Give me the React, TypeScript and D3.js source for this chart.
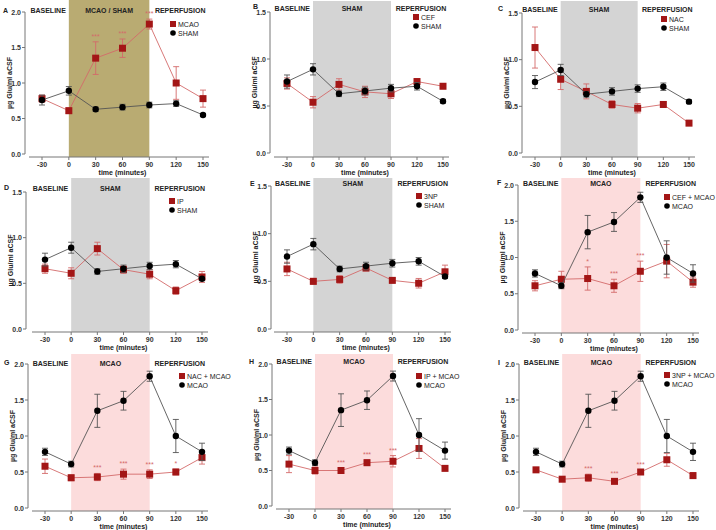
import React from 'react';
import * as d3 from 'd3';

const times = [-30, 0, 30, 60, 90, 120, 150];
const timeTickLabels = ['-30', '0', '30', '60', '90', '120', '150'];
const yTickStep = 0.5;

const shamMean = [0.76, 0.89, 0.63, 0.66, 0.69, 0.71, 0.55];
const shamErr = [0.07, 0.06, 0.03, 0.04, 0.04, 0.04, 0.02];
const mcaoMean = [0.78, 0.61, 1.35, 1.49, 1.83, 1.0, 0.78];
const mcaoErr = [0.05, 0.04, 0.23, 0.13, 0.07, 0.23, 0.12];

const cefMean = [0.74, 0.54, 0.73, 0.65, 0.63, 0.76, 0.71];
const cefErr = [0.06, 0.06, 0.06, 0.06, 0.05, 0.03, 0.02];
const nacMean = [1.13, 0.79, 0.66, 0.52, 0.48, 0.52, 0.32];
const nacErr = [0.22, 0.11, 0.08, 0.04, 0.05, 0.03, 0.02];
const ipMean = [0.66, 0.61, 0.88, 0.65, 0.6, 0.42, 0.57];
const ipErr = [0.05, 0.06, 0.07, 0.04, 0.05, 0.04, 0.06];
const tnpMean = [0.63, 0.5, 0.52, 0.64, 0.51, 0.48, 0.6];
const tnpErr = [0.07, 0.03, 0.04, 0.03, 0.02, 0.05, 0.07];

const cefMcaoMean = [0.61, 0.7, 0.71, 0.61, 0.81, 0.95, 0.66];
const cefMcaoErr = [0.07, 0.11, 0.16, 0.09, 0.14, 0.23, 0.07];
const nacMcaoMean = [0.58, 0.42, 0.43, 0.47, 0.47, 0.5, 0.7];
const nacMcaoErr = [0.1, 0.04, 0.05, 0.07, 0.06, 0.04, 0.09];
const ipMcaoMean = [0.59, 0.5, 0.5, 0.61, 0.63, 0.81, 0.53];
const ipMcaoErr = [0.12, 0.05, 0.03, 0.04, 0.08, 0.14, 0.03];
const tnpMcaoMean = [0.53, 0.4, 0.42, 0.37, 0.5, 0.67, 0.45];
const tnpMcaoErr = [0.02, 0.03, 0.05, 0.03, 0.03, 0.09, 0.04];

const starsA = ['', '', '***', '***', '***', '', ''];
const starsF = ['', '', '*', '***', '***', '', ''];
const starsG = ['', '', '***', '***', '***', '*', ''];
const starsH = ['', '', '***', '***', '***', '', ''];
const starsI = ['', '', '***', '***', '***', '', ''];
const noStars = ['', '', '', '', '', '', ''];

const panelLetters = ['A', 'B', 'C', 'D', 'E', 'F', 'G', 'H', 'I'];
const phaseLabels = ['MCAO / SHAM', 'SHAM', 'SHAM', 'SHAM', 'SHAM', 'MCAO', 'MCAO', 'MCAO', 'MCAO'];
const redNames = ['MCAO', 'CEF', 'NAC', 'IP', '3NP', 'CEF + MCAO', 'NAC + MCAO', 'IP + MCAO', '3NP + MCAO'];
const blackNames = ['SHAM', 'SHAM', 'SHAM', 'SHAM', 'SHAM', 'MCAO', 'MCAO', 'MCAO', 'MCAO'];
const redMeans = [mcaoMean, cefMean, nacMean, ipMean, tnpMean, cefMcaoMean, nacMcaoMean, ipMcaoMean, tnpMcaoMean];
const redErrs = [mcaoErr, cefErr, nacErr, ipErr, tnpErr, cefMcaoErr, nacMcaoErr, ipMcaoErr, tnpMcaoErr];
const blackMeans = [shamMean, shamMean, shamMean, shamMean, shamMean, mcaoMean, mcaoMean, mcaoMean, mcaoMean];
const blackErrs = [shamErr, shamErr, shamErr, shamErr, shamErr, mcaoErr, mcaoErr, mcaoErr, mcaoErr];
const panelStars = [starsA, noStars, noStars, noStars, noStars, starsF, starsG, starsH, starsI];
const yMaxes = [2.0, 1.5, 1.5, 1.5, 1.5, 2.0, 2.0, 2.0, 2.0];

// layout (pixel geometry per panel)
const layouts = [
  { axisX: 25, x0: 42, x1: 203, yTop: 12, yBot: 154, axisY: 157, shadeTop: 0, headerY: 13, letterX: 3, letterY: 13, legX: 173, legY: 24, shade: '#b9ab72' },
  { axisX: 270, x0: 287, x1: 443, yTop: 12, yBot: 153, axisY: 157, shadeTop: 1, headerY: 11, letterX: 253, letterY: 9, legX: 416, legY: 17, shade: '#d4d4d4' },
  { axisX: 522, x0: 535, x1: 689, yTop: 13, yBot: 153, axisY: 157, shadeTop: 1, headerY: 12, letterX: 498, letterY: 11, legX: 664, legY: 19, shade: '#d4d4d4' },
  { axisX: 26, x0: 45, x1: 202, yTop: 192, yBot: 329, axisY: 332, shadeTop: 178, headerY: 191, letterX: 4, letterY: 190, legX: 172, legY: 201, shade: '#d4d4d4' },
  { axisX: 271, x0: 287, x1: 445, yTop: 186, yBot: 329, axisY: 332, shadeTop: 178, headerY: 186, letterX: 250, letterY: 186, legX: 419, legY: 196, shade: '#d4d4d4' },
  { axisX: 518, x0: 535, x1: 693, yTop: 185, yBot: 330, axisY: 333, shadeTop: 178, headerY: 186, letterX: 497, letterY: 185, legX: 667, legY: 197, shade: '#fcdcdc' },
  { axisX: 28, x0: 45, x1: 202, yTop: 364, yBot: 508, axisY: 511, shadeTop: 354, headerY: 366, letterX: 4, letterY: 365, legX: 182, legY: 376, shade: '#fcdcdc' },
  { axisX: 272, x0: 289, x1: 445, yTop: 364, yBot: 506, axisY: 509, shadeTop: 354, headerY: 364, letterX: 249, letterY: 364, legX: 419, legY: 376, shade: '#fcdcdc' },
  { axisX: 519, x0: 536, x1: 693, yTop: 364, yBot: 508, axisY: 511, shadeTop: 354, headerY: 365, letterX: 498, letterY: 365, legX: 667, legY: 375, shade: '#fcdcdc' },
];

const FONT = '"Liberation Sans", Arial, sans-serif';
const RED = '#a31616';
const RED_LINE = '#d46a6a';
const BLACK = '#000000';
const BLACK_LINE = '#555555';
const AXIS = '#777777';

function Series({ x, y, mean, err, color, lineColor, square }: any) {
  const line = d3.line<number>().x((_, i) => x(times[i])).y((d) => y(d));
  return (
    <g>
      <path d={line(mean) || ''} fill="none" stroke={lineColor} strokeWidth={0.9} />
      {mean.map((m: number, i: number) => {
        const cx = x(times[i]);
        const top = y(m + err[i]);
        const bot = y(m - err[i]);
        return (
          <g key={i}>
            <line x1={cx} x2={cx} y1={top} y2={bot} stroke={lineColor} strokeWidth={0.9} />
            <line x1={cx - 3} x2={cx + 3} y1={top} y2={top} stroke={lineColor} strokeWidth={0.9} />
            <line x1={cx - 3} x2={cx + 3} y1={bot} y2={bot} stroke={lineColor} strokeWidth={0.9} />
          </g>
        );
      })}
      {mean.map((m: number, i: number) =>
        square ? (
          <rect key={'m' + i} x={x(times[i]) - 3.5} y={y(m) - 3.5} width={7} height={7} fill={color} />
        ) : (
          <circle key={'m' + i} cx={x(times[i])} cy={y(m)} r={3.2} fill={color} />
        )
      )}
    </g>
  );
}

function Panel({ idx }: { idx: number }) {
  const L = layouts[idx];
  const yMax = yMaxes[idx];
  const x = d3.scaleLinear().domain([-30, 150]).range([L.x0, L.x1]);
  const y = d3.scaleLinear().domain([0, yMax]).range([L.yBot, L.yTop]);
  const yTicks = d3.range(0, yMax + 1e-6, yTickStep);
  const redMean = redMeans[idx];
  const redErr = redErrs[idx];
  const stars = panelStars[idx];
  return (
    <g fontFamily={FONT}>
      <rect x={x(0)} y={L.shadeTop} width={x(90) - x(0)} height={L.axisY - L.shadeTop} fill={L.shade} />
      {/* y axis */}
      <line x1={L.axisX} x2={L.axisX} y1={y(0)} y2={y(yMax)} stroke={AXIS} strokeWidth={1} />
      {yTicks.map((t) => (
        <g key={t}>
          <line x1={L.axisX - 3} x2={L.axisX} y1={y(t)} y2={y(t)} stroke={AXIS} strokeWidth={1} />
          <text x={L.axisX - 4} y={y(t) + 2.5} textAnchor="end" fontSize={7} fontWeight="bold" fill="#333">
            {d3.format('.1f')(t)}
          </text>
        </g>
      ))}
      <text
        transform={`translate(${L.axisX - 13},${(y(0) + y(yMax)) / 2}) rotate(-90)`}
        textAnchor="middle"
        fontSize={7}
        fontWeight="bold"
        fill="#222"
      >
        µg Glu/ml aCSF
      </text>
      {/* x axis */}
      <line x1={x(-30) - 13} x2={x(150) + 6} y1={L.axisY} y2={L.axisY} stroke={AXIS} strokeWidth={1} />
      {times.map((t, i) => (
        <g key={t}>
          <line x1={x(t)} x2={x(t)} y1={L.axisY} y2={L.axisY + 3} stroke={AXIS} strokeWidth={1} />
          <text x={x(t)} y={L.axisY + 10} textAnchor="middle" fontSize={7} fontWeight="bold" fill="#333">
            {timeTickLabels[i]}
          </text>
        </g>
      ))}
      <text x={x(60)} y={L.axisY + 18} textAnchor="middle" fontSize={7} fontWeight="bold" fill="#222">
        time (minutes)
      </text>
      {/* headers */}
      <text x={L.letterX} y={L.letterY} fontSize={7} fontWeight="bold" fill="#222">{panelLetters[idx]}</text>
      <text x={x(0) - 3} y={L.headerY} textAnchor="end" fontSize={7} fontWeight="bold" fill="#222">BASELINE</text>
      <text x={x(45)} y={L.headerY} textAnchor="middle" fontSize={7} fontWeight="bold" fill="#222">{phaseLabels[idx]}</text>
      <text x={x(120) + 4} y={L.headerY} textAnchor="middle" fontSize={7} fontWeight="bold" fill="#222">REPERFUSION</text>
      {/* series */}
      <Series x={x} y={y} mean={redMean} err={redErr} color={RED} lineColor={RED_LINE} square />
      <Series x={x} y={y} mean={blackMeans[idx]} err={blackErrs[idx]} color={BLACK} lineColor={BLACK_LINE} square={false} />
      {stars.map((s, i) =>
        s ? (
          <text key={i} x={x(times[i])} y={y(redMean[i] + redErr[i]) - 3} textAnchor="middle" fontSize={7} fill={RED_LINE}>
            {s}
          </text>
        ) : null
      )}
      {/* legend */}
      <rect x={L.legX - 3} y={L.legY - 3} width={6} height={6} fill={RED} />
      <text x={L.legX + 5} y={L.legY + 2.5} fontSize={7} fill="#222">{redNames[idx]}</text>
      <circle cx={L.legX} cy={L.legY + 9} r={2.8} fill={BLACK} />
      <text x={L.legX + 5} y={L.legY + 11.5} fontSize={7} fill="#222">{blackNames[idx]}</text>
    </g>
  );
}

export default function App() {
  return (
    <svg
      width={716}
      height={530}
      viewBox="0 0 716 530"
      style={{ position: 'absolute', left: 0, top: 0, background: '#fff' }}
    >
      <rect width={716} height={530} fill="#fff" />
      {layouts.map((_, i) => (
        <Panel key={i} idx={i} />
      ))}
    </svg>
  );
}
